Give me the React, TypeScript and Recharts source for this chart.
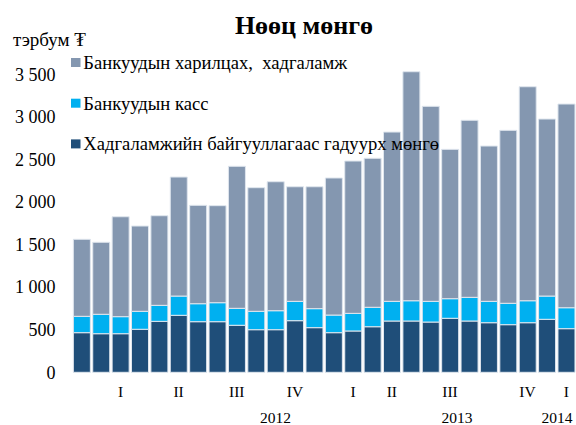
import React from 'react';
import { BarChart, Bar, XAxis, YAxis, Legend } from 'recharts';

const categories = [
  'm01', 'm02', 'm03', 'm04', 'm05', 'm06', 'm07', 'm08', 'm09', 'm10', 'm11', 'm12', 'm13',
  'm14', 'm15', 'm16', 'm17', 'm18', 'm19', 'm20', 'm21', 'm22', 'm23', 'm24', 'm25', 'm26',
];

// Хадгаламжийн байгууллагаас гадуурх мөнгө
const outsideCash = [465, 453, 453, 505, 598, 669, 594, 594, 552, 500, 500, 606, 524, 465, 485, 535, 602, 602, 590, 634, 602, 582, 559, 582, 622, 512];
// Банкуудын касс
const bankVault = [192, 228, 200, 211, 188, 226, 211, 223, 199, 216, 223, 227, 223, 207, 207, 228, 231, 238, 243, 230, 278, 251, 251, 258, 273, 246];
// Банкуудын харилцах, хадгаламж
const bankDeposits = [904, 845, 1173, 1001, 1052, 1397, 1155, 1139, 1667, 1451, 1514, 1345, 1431, 1609, 1788, 1749, 1987, 2688, 2289, 1753, 2078, 1823, 2030, 2512, 2078, 2391];

const quarterLabels = ['', '', 'I', '', '', 'II', '', '', 'III', '', '', 'IV', '', '', 'I', '', 'II', '', '', 'III', '', '', '', 'IV', '', 'I'];
const yearLabels = ['', '', '', '', '', '', '', '', '', '', '2012', '', '', '', '', '', '', '', '', '2013', '', '', '', '', '2014', ''];
const yTicks = [0, 500, 1000, 1500, 2000, 2500, 3000, 3500];

const seriesNames: Record<string, string> = {
  outside: 'Хадгаламжийн байгууллагаас гадуурх мөнгө',
  vault: 'Банкуудын касс',
  deposits: 'Банкуудын харилцах,  хадгаламж',
};
const legendOrder = ['deposits', 'vault', 'outside'];

const data = categories.map((c, i) => ({
  name: c,
  outside: outsideCash[i],
  vault: bankVault[i],
  deposits: bankDeposits[i],
}));

const FONT = "'Liberation Serif', 'Times New Roman', serif";

const fmt = (n: number) =>
  n >= 1000 ? `${Math.floor(n / 1000)} ${String(n % 1000).padStart(3, '0')}` : String(n);

const yearShift: Record<number, number> = { 19: 7, 24: 10 };

const XTick = (props: any) => {
  const { x, y, payload } = props;
  const i = payload.index;
  const q = quarterLabels[i];
  const yr = yearLabels[i];
  return (
    <g>
      {q ? (
        <text x={x} y={y + 24.4} textAnchor="middle" fontFamily={FONT} fontSize={15.5} fill="#000">
          {q}
        </text>
      ) : null}
      {yr ? (
        <text x={x + (yearShift[i] || 0)} y={y + 51} textAnchor="middle" fontFamily={FONT} fontSize={15.5} fill="#000">
          {yr}
        </text>
      ) : null}
    </g>
  );
};

const LegendContent = (props: any) => {
  const items = legendOrder
    .map((k) => (props.payload || []).find((p: any) => p.dataKey === k))
    .filter(Boolean);
  return (
    <svg width={420} height={100} style={{ display: 'block', overflow: 'visible' }}>
      {items.map((p: any, i: number) => (
        <g key={i}>
          <rect x={0} y={i * 40.7} width={9.5} height={9} fill={p.color} />
          <text x={12.3} y={i * 40.7 + 11} fontFamily={FONT} fontSize={18.6} fill="#000" style={{ whiteSpace: 'pre' }}>
            {p.value}
          </text>
        </g>
      ))}
    </svg>
  );
};

export default function App() {
  return (
    <div style={{ position: 'absolute', left: 0, top: 0, width: 576, height: 425, background: '#fff' }}>
      <BarChart
        width={576}
        height={425}
        data={data}
        margin={{ top: 65.6, right: 0, left: 0, bottom: 0 }}
        barCategoryGap="7%"
      >
        <XAxis
          dataKey="name"
          interval={0}
          height={52.7}
          axisLine={false}
          tickLine={false}
          tickSize={0}
          tickMargin={0}
          tick={<XTick />}
        />
        <YAxis
          type="number"
          domain={[0, 3600]}
          ticks={yTicks}
          width={72}
          axisLine={false}
          tickLine={false}
          tickSize={0}
          tickMargin={16.5}
          tickFormatter={fmt}
          tick={{ fontFamily: FONT, fontSize: 18, fill: '#000' }}
        />
        <Legend
          layout="vertical"
          align="center"
          verticalAlign="middle"
          content={<LegendContent />}
          wrapperStyle={{ position: 'absolute', left: 71, top: 58.3, width: 420, height: 100 }}
        />
        <Bar dataKey="outside" name={seriesNames.outside} stackId="a" fill="#1F4E79" stroke="#dfe6ee" strokeWidth={1} isAnimationActive={false} />
        <Bar dataKey="vault" name={seriesNames.vault} stackId="a" fill="#00B0F0" stroke="#dfe6ee" strokeWidth={1} isAnimationActive={false} />
        <Bar dataKey="deposits" name={seriesNames.deposits} stackId="a" fill="#8497B0" stroke="#dfe6ee" strokeWidth={1} isAnimationActive={false} />
      </BarChart>
      <svg width={576} height={425} style={{ position: 'absolute', left: 0, top: 0, pointerEvents: 'none' }}>
        <text x={304} y={34.3} textAnchor="middle" fontFamily={FONT} fontWeight="bold" fontSize={26} fill="#000">
          Нөөц мөнгө
        </text>
        <text x={12.9} y={45.9} fontFamily={FONT} fontSize={19} fill="#000">
          тэрбум ₮
        </text>
      </svg>
    </div>
  );
}
